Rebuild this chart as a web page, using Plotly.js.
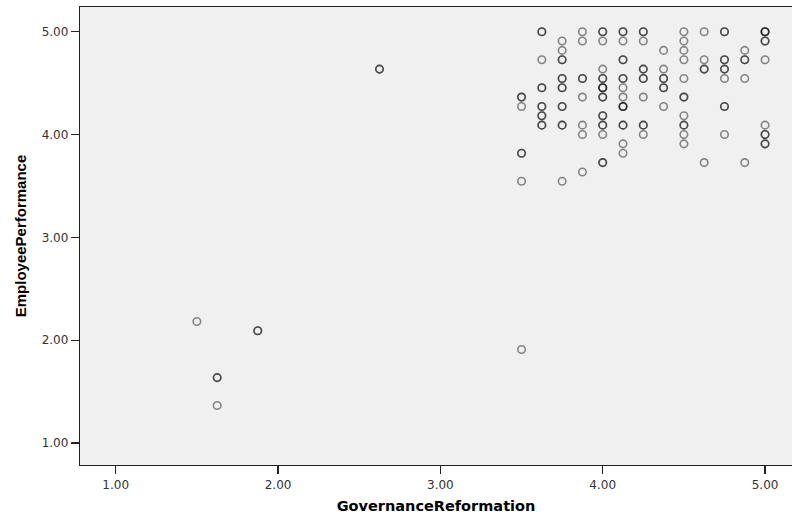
<!DOCTYPE html>
<html>
<head>
<meta charset="utf-8">
<script src="https://cdn.plot.ly/plotly-3.0.1.min.js"></script>
<style>html,body{margin:0;padding:0;background:#fff;overflow:hidden}#chart{width:792px;height:516px}</style>
</head>
<body>
<div id="chart"></div>
<script>
// GovernanceReformation (x), EmployeePerformance (y), number of overlapping cases (counts)
const govX = [
  1.5,
  1.625, 1.625,
  1.875,
  2.625,
  3.5, 3.5, 3.5, 3.5, 3.5,
  3.625, 3.625, 3.625, 3.625, 3.625, 3.625,
  3.75, 3.75, 3.75, 3.75, 3.75, 3.75, 3.75, 3.75,
  3.875, 3.875, 3.875, 3.875, 3.875, 3.875, 3.875,
  4.0, 4.0, 4.0, 4.0, 4.0, 4.0, 4.0, 4.0, 4.0, 4.0,
  4.125, 4.125, 4.125, 4.125, 4.125, 4.125, 4.125, 4.125, 4.125, 4.125,
  4.25, 4.25, 4.25, 4.25, 4.25, 4.25, 4.25,
  4.375, 4.375, 4.375, 4.375, 4.375,
  4.5, 4.5, 4.5, 4.5, 4.5, 4.5, 4.5, 4.5, 4.5, 4.5,
  4.625, 4.625, 4.625, 4.625,
  4.75, 4.75, 4.75, 4.75, 4.75, 4.75,
  4.875, 4.875, 4.875, 4.875,
  5.0, 5.0, 5.0, 5.0, 5.0, 5.0
];
const empY = [
  2.182,
  1.636, 1.364,
  2.091,
  4.636,
  4.364, 4.273, 3.818, 3.545, 1.909,
  5.0, 4.727, 4.455, 4.273, 4.182, 4.091,
  4.909, 4.818, 4.727, 4.545, 4.455, 4.273, 4.091, 3.545,
  5.0, 4.909, 4.545, 4.364, 4.091, 4.0, 3.636,
  5.0, 4.909, 4.636, 4.545, 4.455, 4.364, 4.182, 4.091, 4.0, 3.727,
  5.0, 4.909, 4.727, 4.545, 4.455, 4.364, 4.273, 4.091, 3.909, 3.818,
  5.0, 4.909, 4.636, 4.545, 4.364, 4.091, 4.0,
  4.818, 4.636, 4.545, 4.455, 4.273,
  5.0, 4.909, 4.818, 4.727, 4.545, 4.364, 4.182, 4.091, 4.0, 3.909,
  5.0, 4.727, 4.636, 3.727,
  5.0, 4.727, 4.636, 4.545, 4.273, 4.0,
  4.818, 4.727, 4.545, 3.727,
  5.0, 4.909, 4.727, 4.091, 4.0, 3.909
];
const counts = [
  1,
  2, 1,
  2,
  2,
  2, 1, 2, 1, 1,
  2, 1, 2, 2, 2, 2,
  1, 1, 2, 2, 2, 2, 2, 1,
  1, 1, 2, 1, 1, 1, 1,
  2, 1, 1, 2, 3, 2, 2, 2, 1, 2,
  2, 1, 2, 2, 1, 1, 3, 2, 1, 1,
  2, 1, 2, 2, 1, 2, 1,
  1, 1, 2, 2, 1,
  1, 1, 1, 1, 1, 2, 1, 2, 1, 1,
  1, 1, 2, 1,
  2, 2, 2, 1, 2, 1,
  1, 2, 1, 1,
  3, 2, 1, 1, 2, 2
];
const xTicks = [1, 2, 3, 4, 5];
const xTickText = ["1.00", "2.00", "3.00", "4.00", "5.00"];
const yTicks = [1, 2, 3, 4, 5];
const yTickText = ["1.00", "2.00", "3.00", "4.00", "5.00"];

// expand overlapping cases so that stacked semi-transparent rings darken
const px = [], py = [];
govX.forEach((x, i) => { for (let k = 0; k < counts[i]; k++) { px.push(x); py.push(empY[i]); } });

const trace = {
  x: px, y: py, type: 'scatter', mode: 'markers',
  marker: { symbol: 'circle', size: 7.5, color: 'rgba(0,0,0,0)',
            line: { color: 'rgba(0,0,0,0.45)', width: 1.6 } },
  hoverinfo: 'x+y'
};

const tickFont = { family: 'DejaVu Sans, sans-serif', size: 12, color: '#333' };

const layout = {
  width: 792, height: 516,
  margin: { l: 80, r: 0, t: 7, b: 51 },
  paper_bgcolor: '#ffffff', plot_bgcolor: '#f0f0f0',
  showlegend: false,
  xaxis: {
    range: [0.78, 5.166], tickvals: xTicks, ticktext: xTickText,
    ticks: 'outside', ticklen: 8, tickwidth: 1.2, tickcolor: '#222',
    showline: true, linecolor: '#222', linewidth: 1.2, mirror: true,
    showgrid: false, zeroline: false, tickfont: tickFont,
    title: { text: '<b>GovernanceReformation</b>',
             font: { family: 'DejaVu Sans, sans-serif', size: 14.5, color: '#000' }, standoff: 10 }
  },
  yaxis: {
    range: [0.786, 5.24], tickvals: yTicks, ticktext: yTickText,
    ticks: 'outside', ticklen: 8, tickwidth: 1.2, tickcolor: '#222',
    showline: true, linecolor: '#222', linewidth: 1.2, mirror: false,
    showgrid: false, zeroline: false, tickfont: tickFont,
    title: { text: '<b>EmployeePerformance</b>',
             font: { family: 'Liberation Sans, Arial, sans-serif', size: 15, color: '#000' }, standoff: 11 }
  }
};

Plotly.newPlot('chart', [trace], layout, { displayModeBar: false, staticPlot: true });
</script>
</body>
</html>
